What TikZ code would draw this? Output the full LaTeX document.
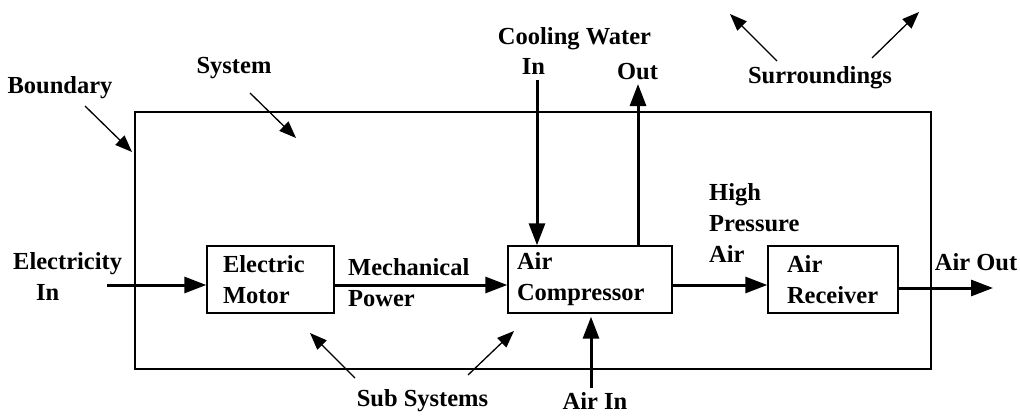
\documentclass[tikz,border=0pt]{standalone}
\usepackage{fontspec}
\setmainfont{Liberation Serif}
\usetikzlibrary{arrows.meta,positioning}
\tikzset{
  lbl/.style={font=\bfseries\fontsize{24.5}{31}\selectfont, inner sep=0pt, align=left},
  unitbox/.style={lbl, draw, line width=1.4pt, minimum height=67pt, inner ysep=0pt},
  flowarr/.style={-{Triangle[length=22pt,width=16pt]}, line width=3pt},
  ptrarr/.style={-{Triangle[length=17pt,width=13pt]}, line width=1.3pt}
}
\begin{document}
\begin{tikzpicture}[x=1pt,y=1pt]
  \useasboundingbox (0,0) rectangle (1020,416);
  \node[draw, line width=1.5pt, minimum width=796pt, minimum height=257pt, inner sep=0pt] (sysbound) at (533,175.5) {};
  \node[unitbox, text width=95pt, inner xsep=16pt] (motor) at (270.5,136.5) {Electric\\Motor};
  \node[unitbox, text width=146pt, inner xsep=9pt] (comp) at (590,136.5) {Air\\Compressor};
  \node[unitbox, text width=92pt, inner xsep=19pt] (recv) at (833,136.5) {Air\\Receiver};
  \node[lbl, anchor=west] (elecLbl) at (13,140) {Electricity\\\hspace*{23pt}In};
  \node[lbl, anchor=west] (mechLbl) at (348,133.5) {Mechanical\\Power};
  \node[lbl, anchor=west] (hpLbl) at (709,193.5) {High\\Pressure\\Air};
  \node[lbl] (outLbl) at (976,154) {Air Out};
  \node[lbl] (cwLbl) at (574.5,377) {Cooling Water};
  \node[lbl] (cwInLbl) at (533.5,350) {In};
  \node[lbl] (cwOutLbl) at (637.5,344) {Out};
  \node[lbl] (airInLbl) at (595,15) {Air In};
  \node[lbl] (bndLbl) at (60,328) {Boundary};
  \node[lbl] (sysLbl) at (234,348) {System};
  \node[lbl] (surLbl) at (820,338) {Surroundings};
  \node[lbl] (subLbl) at (422.5,15) {Sub Systems};
  \coordinate (elecsrc) at (107,131);
  \coordinate (airout) at (993,128);
  \coordinate (cwsrc) at (537,336);
  \coordinate (cwdst) at (638,332);
  \coordinate (airsrc) at (591,28);
  \draw[flowarr] (elecsrc) -- (elecsrc -| motor.west);
  \draw[flowarr] (motor.east |- elecsrc) -- (comp.west |- elecsrc);
  \draw[flowarr] (comp.east |- elecsrc) -- (recv.west |- elecsrc);
  \draw[flowarr] (recv.east |- airout) -- (airout);
  \draw[flowarr] (cwsrc) -- (cwsrc |- comp.north);
  \draw[flowarr] (cwdst |- comp.north) -- (cwdst);
  \draw[flowarr, shorten >=3pt] (airsrc) -- (airsrc |- comp.south);
  \coordinate (bnd0) at (85,310);  \coordinate (bnd1) at (132,264);
  \coordinate (sys0) at (250,323); \coordinate (sys1) at (296,278);
  \coordinate (surA0) at (777,355); \coordinate (surA1) at (730,402);
  \coordinate (surB0) at (872,358); \coordinate (surB1) at (919,404);
  \coordinate (subA0) at (355,38); \coordinate (subA1) at (310,83);
  \coordinate (subB0) at (468,41); \coordinate (subB1) at (514,85);
  \draw[ptrarr] (bnd0) -- (bnd1);
  \draw[ptrarr] (sys0) -- (sys1);
  \draw[ptrarr] (surA0) -- (surA1);
  \draw[ptrarr] (surB0) -- (surB1);
  \draw[ptrarr] (subA0) -- (subA1);
  \draw[ptrarr] (subB0) -- (subB1);
\end{tikzpicture}
\end{document}
